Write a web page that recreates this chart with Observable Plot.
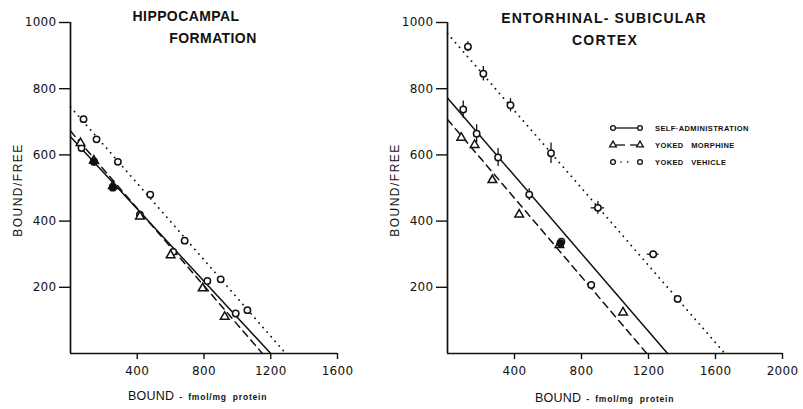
<!DOCTYPE html>
<html><head><meta charset="utf-8">
<script src="https://cdn.jsdelivr.net/npm/d3@7"></script>
<script src="https://cdn.jsdelivr.net/npm/@observablehq/plot@0.6"></script>
<style>
body{margin:0;background:#fff;}
#wrap{position:relative;width:803px;height:409px;overflow:hidden;background:#fff;}
#wrap svg{position:absolute;top:0;}
</style>
</head><body>
<div id="wrap"></div>
<script>
// ---------- DATA ----------
// Hippocampal formation (left panel)
const hSelf = [{x:66,y:621},{x:140,y:579},{x:254,y:501},{x:416,y:419},{x:616,y:307},{x:820,y:219},{x:990,y:121}];
const hMorph = [{x:60,y:636},{x:140,y:583},{x:254,y:506},{x:416,y:414},{x:600,y:297},{x:792,y:197},{x:924,y:111}];
const hVeh = [{x:78,y:708},{x:156,y:647},{x:284,y:579},{x:478,y:480},{x:684,y:341},{x:900,y:224},{x:1060,y:131}];
const hOverlap = [{x:140,y:580},{x:254,y:503}];
const hLines = [
  {series:"self", yInt:655, xInt:1200},
  {series:"morph", yInt:672, xInt:1150},
  {series:"veh", yInt:745, xInt:1290}
];
const hErrV = [];
const hErrH = [];
// Entorhinal-subicular cortex (right panel)
const eSelf = [{x:94,y:737},{x:174,y:664},{x:302,y:592},{x:488,y:480},{x:680,y:338},{x:858,y:207}];
const eMorph = [{x:82,y:652},{x:162,y:630},{x:268,y:524},{x:428,y:420},{x:668,y:328},{x:1048,y:124}];
const eVeh = [{x:122,y:927},{x:214,y:845},{x:376,y:750},{x:618,y:605},{x:898,y:440},{x:1228,y:300},{x:1374,y:165}];
const eOverlap = [{x:674,y:333}];
const eLines = [
  {series:"self", yInt:772, xInt:1314},
  {series:"morph", yInt:707, xInt:1190},
  {series:"veh", yInt:967, xInt:1656}
];
const eErrV = [
  {x:94,y:737,e:26},{x:174,y:664,e:27},{x:302,y:592,e:27},{x:488,y:480,e:18},
  {x:122,y:927,e:15},{x:214,y:845,e:22},{x:376,y:750,e:20},{x:618,y:605,e:31},{x:898,y:440,e:19},{x:1228,y:300,e:9}
];
const eErrH = [{x:898,y:440,e:40},{x:1228,y:300,e:35}];

const yTicks = [200,400,600,800,1000];
const hXTicks = [400,800,1200,1600];
const eXTicks = [400,800,1200,1600,2000];

const legendItems = [
  {label:"SELF\u00B7ADMINISTRATION", series:"self"},
  {label:"YOKED MORPHINE", series:"morph"},
  {label:"YOKED VEHICLE", series:"veh"}
];

// ---------- STYLES ----------
const lineStyle = {
  self: {strokeWidth:1.5},
  morph: {strokeWidth:1.5, strokeDasharray:"7,5"},
  veh: {strokeWidth:1.8, strokeDasharray:"0.1,6", strokeLinecap:"round"}
};

function panel(o){
  const lineMarks = o.lines.map(l => Plot.line([{x:0,y:l.yInt},{x:l.xInt,y:0}], {x:"x", y:"y", stroke:"#111", ...lineStyle[l.series]}));
  return Plot.plot({
    width:o.width, height:409,
    marginLeft:o.marginLeft, marginRight:o.marginRight, marginTop:22, marginBottom:56,
    x:{domain:[0,o.xMax]}, y:{domain:[0,1000]},
    style:{background:"transparent", fontFamily:"'DejaVu Sans', sans-serif", fontSize:"12px", color:"#111", letterSpacing:"0.3px", overflow:"visible"},
    marks:[
      Plot.axisX({ticks:o.xTicks, tickSize:6, tickPadding:7, label:null, strokeWidth:1.4, tickFormat:d=>String(d)}),
      Plot.axisY({ticks:yTicks, tickSize:11, tickPadding:3, label:null, strokeWidth:1.4, tickFormat:d=>String(d)}),
      Plot.ruleX([0], {stroke:"#111", strokeWidth:1.7}),
      Plot.ruleY([0], {stroke:"#111", strokeWidth:1.7}),
      ...lineMarks,
      Plot.ruleX(o.errV, {x:"x", y1:d=>d.y-d.e, y2:d=>d.y+d.e, stroke:"#111", strokeWidth:1.3}),
      Plot.ruleY(o.errH, {y:"y", x1:d=>d.x-d.e, x2:d=>d.x+d.e, stroke:"#111", strokeWidth:1.3}),
      Plot.dot(o.self, {x:"x", y:"y", r:3.2, symbol:"circle", stroke:"#111", fill:"white", strokeWidth:1.5}),
      Plot.dot(o.morph, {x:"x", y:"y", r:3.2, symbol:"triangle", stroke:"#111", fill:"white", strokeWidth:1.5}),
      Plot.dot(o.veh, {x:"x", y:"y", r:3.2, symbol:"circle", stroke:"#111", fill:"white", strokeWidth:1.5}),
      Plot.dot(o.overlap, {x:"x", y:"y", r:4, symbol:"circle", fill:"#111"})
    ]
  });
}

const wrap = document.getElementById("wrap");
const left = panel({width:380, marginLeft:70, marginRight:43, xMax:1600, xTicks:hXTicks,
  self:hSelf, morph:hMorph, veh:hVeh, overlap:hOverlap, lines:hLines, errV:hErrV, errH:hErrH});
left.style.left = "0px";
wrap.appendChild(left);
const right = panel({width:423, marginLeft:67, marginRight:21, xMax:2000, xTicks:eXTicks,
  self:eSelf, morph:eMorph, veh:eVeh, overlap:eOverlap, lines:eLines, errV:eErrV, errH:eErrH});
right.style.left = "380px";
wrap.appendChild(right);

// ---------- TEXT OVERLAY ----------
const ov = d3.select(wrap).append("svg").attr("width",803).attr("height",409).style("left","0px")
  .style("font-family","'Liberation Sans', Arial, sans-serif").attr("fill","#111");

function title(x,y,t,ls){
  ov.append("text").attr("x",x).attr("y",y).attr("text-anchor","middle")
    .attr("font-weight","bold").attr("font-size",14).attr("letter-spacing",ls).text(t);
}
title(186,21,"HIPPOCAMPAL",0.4);
title(213,43,"FORMATION",0.4);
title(604,23,"ENTORHINAL- SUBICULAR",1.1);
title(605,45,"CORTEX",1.3);

function ylab(x){
  ov.append("text").attr("transform",`translate(${x},190) rotate(-90)`).attr("text-anchor","middle")
    .attr("font-size",12).attr("letter-spacing",1.5).text("BOUND/FREE");
}
ylab(22); ylab(399);

function xlab(x,y){
  const t = ov.append("text").attr("x",x).attr("y",y);
  t.append("tspan").attr("font-size",12.5).attr("letter-spacing",0.2).text("BOUND");
  t.append("tspan").attr("font-size",9).attr("font-weight","bold").attr("dx",5).text("-");
  t.append("tspan").attr("font-size",8.5).attr("font-weight","bold").attr("dx",6).attr("letter-spacing",0.8).text("fmol/mg");
  t.append("tspan").attr("font-size",8.5).attr("font-weight","bold").attr("dx",6).attr("letter-spacing",0.8).text("protein");
}
xlab(128,400); xlab(535,402);

// legend
const lg = ov.append("g");
legendItems.forEach((it,i)=>{
  const y = 128 + i*17;
  const sym = it.series==="morph" ? d3.symbolTriangle : d3.symbolCircle;
  const sz = it.series==="morph" ? 20 : 18;
  if(it.series==="self") lg.append("line").attr("x1",616).attr("x2",637).attr("y1",y).attr("y2",y).attr("stroke","#111").attr("stroke-width",1.3);
  if(it.series==="morph"){
    lg.append("line").attr("x1",616).attr("x2",625).attr("y1",y).attr("y2",y).attr("stroke","#111").attr("stroke-width",1.3);
    lg.append("line").attr("x1",630).attr("x2",637).attr("y1",y).attr("y2",y).attr("stroke","#111").attr("stroke-width",1.3);
  }
  if(it.series==="veh") lg.append("line").attr("x1",621).attr("x2",634).attr("y1",y).attr("y2",y).attr("stroke","#111")
      .attr("stroke-width",1.6).attr("stroke-dasharray","0.1,6.5").attr("stroke-linecap","round");
  [613,640].forEach(cx=>{
    lg.append("path").attr("d",d3.symbol(sym,sz)()).attr("transform",`translate(${cx},${y})`)
      .attr("fill","white").attr("stroke","#111").attr("stroke-width",1.3);
  });
  lg.append("text").attr("x",655).attr("y",y+3).attr("font-size",7.5).attr("font-weight","bold")
    .attr("letter-spacing",0.4).attr("word-spacing",5).text(it.label);
});
</script>
</body></html>
